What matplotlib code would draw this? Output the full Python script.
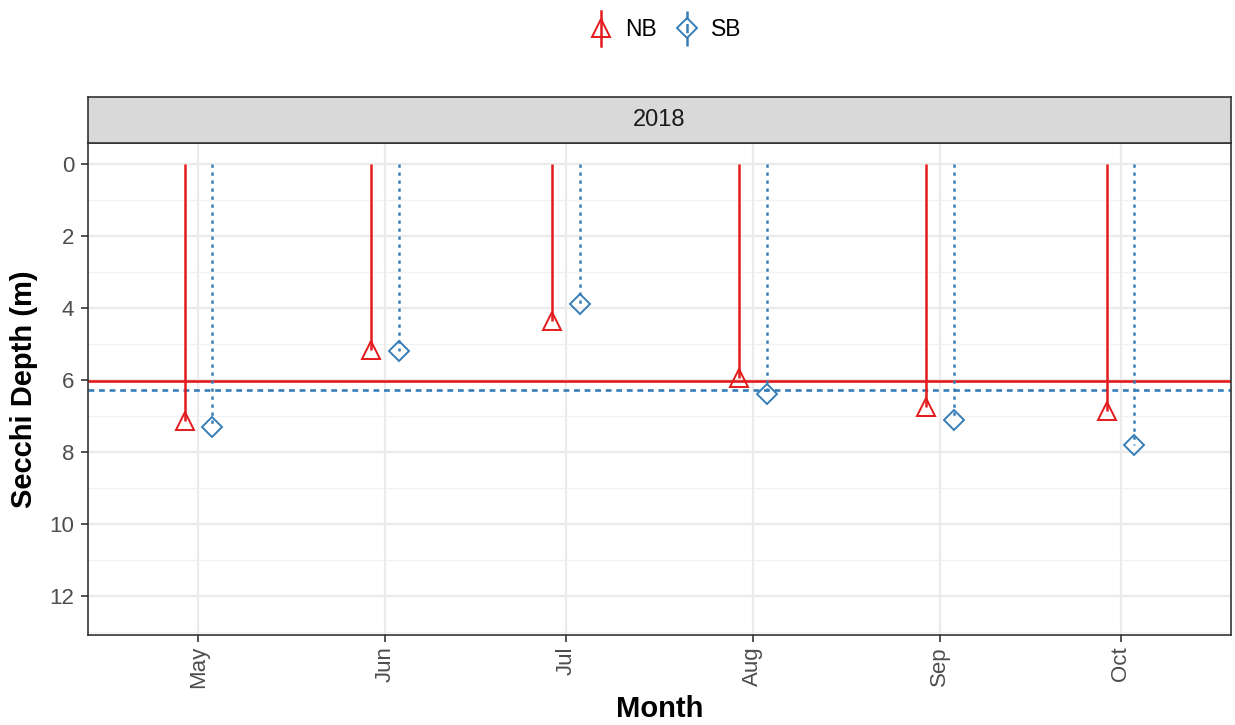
import matplotlib
matplotlib.use("Agg")
import matplotlib.pyplot as plt
import matplotlib.dates as mdates
from matplotlib.lines import Line2D
from matplotlib.legend_handler import HandlerLine2D
import numpy as np
import datetime as dt

plt.rcParams['font.family'] = ['Liberation Sans', 'DejaVu Sans']

# ---- data ----
sample_dates = ["2018-05-01", "2018-06-01", "2018-07-01", "2018-08-01", "2018-09-01", "2018-10-01"]
nb_depth = [7.15, 5.17, 4.35, 5.95, 6.75, 6.85]
sb_depth = [7.30, 5.20, 3.90, 6.40, 7.10, 7.80]
sites = ["NB", "SB"]
year_label = "2018"
month_labels = ["May", "Jun", "Jul", "Aug", "Sep", "Oct"]

RED = "#E41A1C"
BLUE = "#377EB8"

dates = [dt.datetime.strptime(d, "%Y-%m-%d") for d in sample_dates]
xnum = mdates.date2num(dates)
dodge = 2.3  # days

fig = plt.figure(figsize=(12.35, 7.25), dpi=100)
ax = fig.add_axes([88/1235, 1-635/725, (1231-88)/1235, (635-143)/725])

# grid
for v in np.arange(1, 14, 2):
    ax.axhline(v, color="#F2F2F2", lw=1.0, zorder=0)
for v in np.arange(0, 13, 2):
    ax.axhline(v, color="#EBEBEB", lw=1.6, zorder=0)
for xv in xnum:
    ax.axvline(xv, color="#EBEBEB", lw=1.6, zorder=0)

TRI = 13.5
DIA = 10

# NB
nbx = xnum - dodge
ax.vlines(nbx, 0, nb_depth, color=RED, lw=1.8, zorder=3)
ax.plot(nbx, nb_depth, linestyle="none", marker="^", markersize=TRI, mfc="none",
        mec=RED, mew=1.4, zorder=4)
ax.axhline(np.mean(nb_depth), color=RED, lw=1.9, zorder=2)

# SB
sbx = xnum + dodge
ax.vlines(sbx, 0, sb_depth, color=BLUE, lw=1.8, linestyles=(0, (1.3, 1.9)), zorder=3)
ax.plot(sbx, sb_depth, linestyle="none", marker="D", markersize=DIA, mfc="none",
        mec=BLUE, mew=1.4, zorder=4)
ax.axhline(np.mean(sb_depth), color=BLUE, lw=1.9, linestyle=(0, (2.2, 1.8)), zorder=2)

ax.set_ylim(13.08, -0.58)
ax.set_xlim(mdates.date2num(dt.datetime(2018, 4, 12, 16)), mdates.date2num(dt.datetime(2018, 10, 19, 8)))
ax.set_yticks(np.arange(0, 13, 2))
ax.set_xticks(xnum)
ax.set_xticklabels(month_labels, rotation=90, va="top", ha="center")
ax.tick_params(axis="both", labelsize=16, colors="#333333", length=5, width=1.2, labelcolor="#4D4D4D")
ax.tick_params(axis="x", pad=3)
ax.tick_params(axis="y", pad=5)
for s in ax.spines.values():
    s.set_color("#333333")
    s.set_linewidth(1.2)

ax.set_ylabel("Secchi Depth (m)", fontsize=21, fontweight="bold", labelpad=8)
ax.set_xlabel("Month", fontsize=21, fontweight="bold", labelpad=5)

# strip
sax = fig.add_axes([88/1235, 1-143/725, (1231-88)/1235, (143-97)/725])
sax.set_xticks([]); sax.set_yticks([])
sax.set_facecolor("#D9D9D9")
for s in sax.spines.values():
    s.set_color("#333333")
    s.set_linewidth(1.2)
sax.text(0.5, 0.5, year_label, ha="center", va="center", fontsize=17, color="#1A1A1A",
         transform=sax.transAxes)

# legend
handles = [
    Line2D([], [], color=RED, lw=1.8, marker="^", markersize=TRI, mfc="none", mec=RED, mew=1.4),
    Line2D([], [], color=BLUE, lw=1.8, linestyle=(0, (1.3, 1.9)), marker="D", markersize=DIA,
           mfc="none", mec=BLUE, mew=1.4),
]


class VHandler(HandlerLine2D):
    def create_artists(self, legend, orig_handle, xdescent, ydescent, width, height, fontsize, trans):
        cx = width / 2 - xdescent
        line = Line2D([cx, cx], [-0.6 * height - ydescent, 1.6 * height - ydescent],
                      color=orig_handle.get_color(), lw=orig_handle.get_linewidth(),
                      linestyle=orig_handle.get_linestyle())
        mk = Line2D([cx], [height / 2 - ydescent], linestyle="none", marker=orig_handle.get_marker(),
                    markersize=orig_handle.get_markersize(), mfc="none",
                    mec=orig_handle.get_markeredgecolor(), mew=orig_handle.get_markeredgewidth())
        line.set_transform(trans); mk.set_transform(trans)
        return [line, mk]


leg = fig.legend(handles, sites, loc="center", bbox_to_anchor=(665/1235, 1-30/725), ncol=2,
                 frameon=False, fontsize=16.5, handlelength=1.1, handletextpad=0.5, columnspacing=0.8,
                 handler_map={Line2D: VHandler()})

fig.savefig("out.png", dpi=100)
